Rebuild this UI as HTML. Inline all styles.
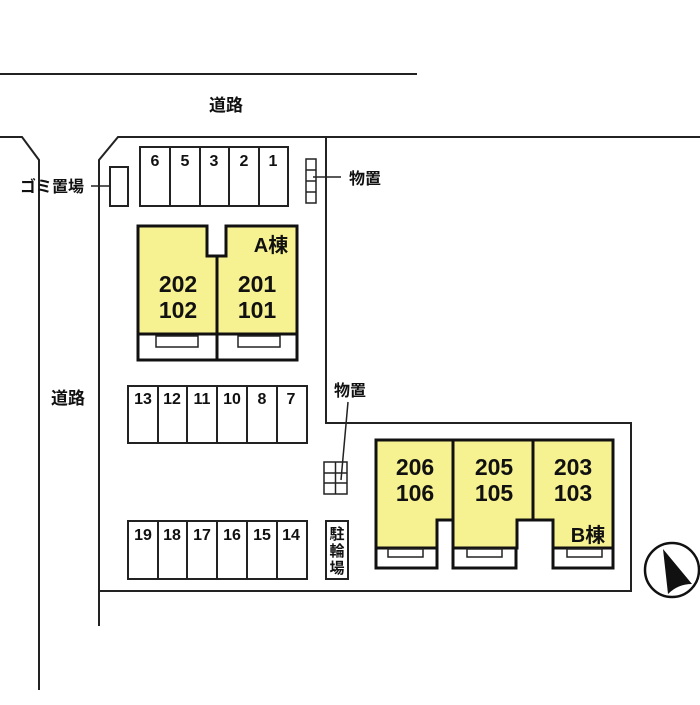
<!DOCTYPE html>
<html><head><meta charset="utf-8"><style>
html,body{margin:0;padding:0;background:#fff;}
svg text{font-family:"Liberation Sans","Noto Sans CJK JP",sans-serif;fill:#111;}
</style></head><body>
<svg width="700" height="700" viewBox="0 0 700 700" xmlns="http://www.w3.org/2000/svg">
<rect width="700" height="700" fill="#fff"/>
<g stroke="#222" stroke-width="2" fill="none">
<line x1="0" y1="74" x2="417" y2="74"/>
<polyline points="0,137 22,137 39,160 39,690"/>
<polyline points="700,137 118,137 99,160 99,626"/>
<polyline points="326,137 326,423 631,423 631,591 99,591"/>
</g>
<text x="226" y="111" font-size="17" font-weight="bold" text-anchor="middle">道路</text>
<text x="68" y="404" font-size="17" font-weight="bold" text-anchor="middle">道路</text>
<!-- gomi -->
<text x="52" y="192" font-size="16" font-weight="bold" text-anchor="middle">ゴミ置場</text>
<line x1="91" y1="186" x2="118" y2="186" stroke="#222" stroke-width="1.5"/>
<rect x="110" y="167" width="18" height="39" fill="#fff" stroke="#222" stroke-width="2"/>
<!-- parking top -->
<g stroke="#222" stroke-width="2" fill="#fff">
<rect x="140" y="147" width="148" height="59"/>
<line x1="170" y1="147" x2="170" y2="206"/><line x1="200" y1="147" x2="200" y2="206"/>
<line x1="229" y1="147" x2="229" y2="206"/><line x1="259" y1="147" x2="259" y2="206"/>
</g>
<g font-size="16" font-weight="bold" text-anchor="middle">
<text x="155" y="166">6</text><text x="185" y="166">5</text><text x="214" y="166">3</text><text x="244" y="166">2</text><text x="273" y="166">1</text>
</g>
<!-- storage top -->
<g stroke="#222" stroke-width="1.5" fill="#fff">
<rect x="306" y="159" width="10" height="44"/>
<line x1="306" y1="170" x2="316" y2="170"/><line x1="306" y1="181" x2="316" y2="181"/><line x1="306" y1="192" x2="316" y2="192"/>
</g>
<line x1="313" y1="177" x2="341" y2="177" stroke="#222" stroke-width="1.5"/>
<text x="365" y="184" font-size="16" font-weight="bold" text-anchor="middle">物置</text>
<!-- A building -->
<path d="M138,226 H207 V256 H226 V226 H297 V334 H138 Z" fill="#f7f291" stroke="#111" stroke-width="3"/>
<line x1="217" y1="256" x2="217" y2="360" stroke="#111" stroke-width="3"/>
<rect x="138" y="334" width="159" height="26" fill="#fff" stroke="#111" stroke-width="3"/>
<line x1="217" y1="334" x2="217" y2="360" stroke="#111" stroke-width="3"/>
<rect x="156" y="336" width="42" height="11" fill="#fff" stroke="#222" stroke-width="1.5"/>
<rect x="238" y="336" width="42" height="11" fill="#fff" stroke="#222" stroke-width="1.5"/>
<text x="271" y="252" font-size="20" font-weight="bold" text-anchor="middle">A棟</text>
<g font-size="23" font-weight="bold" text-anchor="middle">
<text x="178" y="292">202</text><text x="178" y="318">102</text>
<text x="257" y="292">201</text><text x="257" y="318">101</text>
</g>
<!-- parking middle -->
<g stroke="#222" stroke-width="2" fill="#fff">
<rect x="128" y="386" width="179" height="57"/>
<line x1="158" y1="386" x2="158" y2="443"/><line x1="187" y1="386" x2="187" y2="443"/><line x1="217" y1="386" x2="217" y2="443"/><line x1="247" y1="386" x2="247" y2="443"/><line x1="277" y1="386" x2="277" y2="443"/>
<rect x="128" y="521" width="179" height="58"/>
<line x1="158" y1="521" x2="158" y2="579"/><line x1="187" y1="521" x2="187" y2="579"/><line x1="217" y1="521" x2="217" y2="579"/><line x1="247" y1="521" x2="247" y2="579"/><line x1="277" y1="521" x2="277" y2="579"/>
</g>
<g font-size="16" font-weight="bold" text-anchor="middle">
<text x="143" y="404">13</text><text x="172" y="404">12</text><text x="202" y="404">11</text><text x="232" y="404">10</text><text x="262" y="404">8</text><text x="291" y="404">7</text>
<text x="143" y="540">19</text><text x="172" y="540">18</text><text x="202" y="540">17</text><text x="232" y="540">16</text><text x="262" y="540">15</text><text x="291" y="540">14</text>
</g>
<!-- storage middle -->
<text x="350" y="396" font-size="16" font-weight="bold" text-anchor="middle">物置</text>
<line x1="348" y1="402" x2="341" y2="480" stroke="#222" stroke-width="1.5"/>
<g stroke="#222" stroke-width="1.5" fill="none">
<rect x="324" y="462" width="23" height="32"/>
<line x1="335.5" y1="462" x2="335.5" y2="494"/><line x1="324" y1="473" x2="347" y2="473"/><line x1="324" y1="483" x2="347" y2="483"/>
</g>
<!-- bicycle -->
<rect x="326" y="521" width="22" height="58" fill="#fff" stroke="#222" stroke-width="2"/>
<g font-size="15" font-weight="bold" text-anchor="middle"><text x="337" y="539">駐</text><text x="337" y="556">輪</text><text x="337" y="573">場</text></g>
<!-- B building -->
<path d="M376,440 H613 V548 H553 V520 H517 V548 H453 V520 H437 V548 H376 Z" fill="#f7f291" stroke="#111" stroke-width="3"/>
<line x1="453" y1="440" x2="453" y2="520" stroke="#111" stroke-width="3"/>
<line x1="533" y1="440" x2="533" y2="520" stroke="#111" stroke-width="3"/>
<g fill="#fff" stroke="#111" stroke-width="3">
<rect x="376" y="548" width="61" height="20"/>
<rect x="453" y="548" width="63" height="20"/>
<rect x="553" y="548" width="60" height="20"/>
</g>
<g fill="#fff" stroke="#222" stroke-width="1.5">
<rect x="388" y="549" width="35" height="8"/><rect x="467" y="549" width="35" height="8"/><rect x="567" y="549" width="35" height="8"/>
</g>
<g font-size="23" font-weight="bold" text-anchor="middle">
<text x="415" y="475">206</text><text x="415" y="501">106</text>
<text x="494" y="475">205</text><text x="494" y="501">105</text>
<text x="573" y="475">203</text><text x="573" y="501">103</text>
</g>
<text x="588" y="542" font-size="20" font-weight="bold" text-anchor="middle">B棟</text>
<!-- compass -->
<circle cx="672" cy="570" r="27" fill="#fff" stroke="#111" stroke-width="2.5"/>
<path d="M663,549 L692,584 Q678,584 668,594 Z" fill="#111"/>
</svg>
</body></html>
